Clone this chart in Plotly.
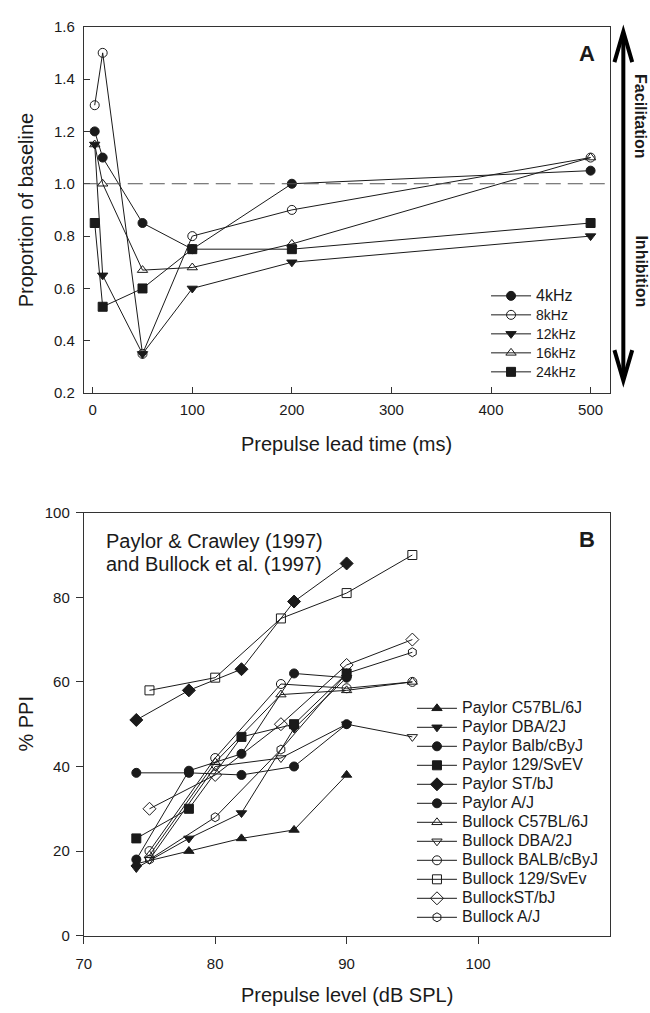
import plotly.graph_objects as go

W, H = 650, 1013

# ---------------- Panel A data ----------------
lead_time = [2, 10, 50, 100, 200, 500]
freq_names = ["4kHz", "8kHz", "12kHz", "16kHz", "24kHz"]
freq_symbols = ["circle", "circle-open", "triangle-down", "triangle-up-open", "square"]
prop_4k = [1.20, 1.10, 0.85, 0.75, 1.00, 1.05]
prop_8k = [1.30, 1.50, 0.35, 0.80, 0.90, 1.10]
prop_12k = [1.15, 0.65, 0.35, 0.60, 0.70, 0.80]
prop_16k = [1.15, 1.00, 0.67, 0.68, 0.77, 1.10]
prop_24k = [0.85, 0.53, 0.60, 0.75, 0.75, 0.85]
prop_series = [prop_4k, prop_8k, prop_12k, prop_16k, prop_24k]

# ---------------- Panel B data ----------------
paylor_levels = [74, 78, 82, 86, 90]
bullock_levels = [75, 80, 85, 90, 95]
strain_names = [
    "Paylor C57BL/6J", "Paylor DBA/2J", "Paylor Balb/cByJ", "Paylor 129/SvEV",
    "Paylor ST/bJ", "Paylor A/J", "Bullock C57BL/6J", "Bullock DBA/2J",
    "Bullock BALB/cByJ", "Bullock 129/SvEv", "BullockST/bJ", "Bullock A/J",
]
strain_symbols = [
    "triangle-up", "triangle-down", "circle", "square", "diamond", "circle",
    "triangle-up-open", "triangle-down-open", "circle-open", "square-open",
    "diamond-open", "hexagon-open",
]
paylor_c57 = [17, 20, 23, 25, 38]
paylor_dba = [16, 23, 29, 49, 61]
paylor_balb = [18, 39, 43, 62, 61]
paylor_129 = [23, 30, 47, 50, 62]
paylor_st = [51, 58, 63, 79, 88]
paylor_aj = [38.5, 38.5, 38, 40, 50]
bullock_c57 = [19, 41, 57, 58, 60]
bullock_dba = [18, 40, 42, 50, 47]
bullock_balb = [20, 42, 59.5, 58.5, 60]
bullock_129 = [58, 61, 75, 81, 90]
bullock_st = [30, 38, 50, 64, 70]
bullock_aj = [18, 28, 44, 62, 67]
ppi_series = [paylor_c57, paylor_dba, paylor_balb, paylor_129, paylor_st, paylor_aj,
              bullock_c57, bullock_dba, bullock_balb, bullock_129, bullock_st, bullock_aj]

FONT = "Liberation Sans, Arial, sans-serif"
INK = "#1a1a1a"


def px(x):
    return x / W


def py(y):
    return 1 - y / H


def label(text, size):
    return f"<span style='font-size:{size}px'>{text}</span>"


fig = go.Figure()

for name, sym, vals in zip(freq_names, freq_symbols, prop_series):
    fig.add_trace(go.Scatter(
        x=lead_time, y=vals, name=label(name, 16 if name == "4kHz" else 14),
        mode="lines+markers",
        line=dict(color=INK, width=1),
        marker=dict(symbol=sym, size=9, color=INK, line=dict(color=INK, width=1)),
        xaxis="x", yaxis="y", legend="legend",
    ))

for i, (name, sym, vals) in enumerate(zip(strain_names, strain_symbols, ppi_series)):
    xs = paylor_levels if i < 6 else bullock_levels
    size = 10 if "diamond" in sym else 9
    fig.add_trace(go.Scatter(
        x=xs, y=vals, name=label(name, 16), mode="lines+markers",
        line=dict(color=INK, width=1),
        marker=dict(symbol=sym, size=size, color=INK, line=dict(color=INK, width=1)),
        xaxis="x2", yaxis="y2", legend="legend2",
    ))

xdom = [px(76.7), px(609)]
axis_common = dict(showline=True, mirror=True, linecolor="#333", linewidth=1,
                   showgrid=False, zeroline=False, tickcolor="#333",
                   tickfont=dict(family=FONT, size=15, color=INK))

fig.update_layout(
    width=W, height=H,
    margin=dict(l=0, r=0, t=0, b=0),
    paper_bgcolor="white", plot_bgcolor="white",
    font=dict(family=FONT, color=INK),
    xaxis=dict(domain=xdom, range=[-9, 519], tickvals=[0, 100, 200, 300, 400, 500],
               ticks="inside", ticklen=6, ticklabelstandoff=3, anchor="y", **axis_common),
    yaxis=dict(domain=[py(390.7), py(18)], range=[0.2, 1.6], dtick=0.2, tickformat=".1f",
               ticks="inside", ticklen=6, ticklabelstandoff=5, anchor="x", **axis_common),
    xaxis2=dict(domain=xdom, range=[70, 110], tickvals=[70, 80, 90, 100],
                ticks="outside", ticklen=7, ticklabelstandoff=7, anchor="y2", **axis_common),
    yaxis2=dict(domain=[py(942.5), py(512.3)], range=[0, 100], dtick=20,
                ticks="outside", ticklen=7, ticklabelstandoff=3, anchor="x2", **axis_common),
    legend=dict(x=px(484), y=py(277), xanchor="left", yanchor="top",
                bgcolor="rgba(0,0,0,0)", font=dict(family=FONT, size=12, color=INK),
                tracegroupgap=0, itemwidth=40),
    legend2=dict(x=px(409), y=py(696.5), xanchor="left", yanchor="top",
                 bgcolor="rgba(0,0,0,0)", font=dict(family=FONT, size=12, color=INK),
                 tracegroupgap=0, itemwidth=40),
    showlegend=True,
)

# dashed baseline in panel A
fig.add_shape(type="line", xref="x", yref="y", x0=-9, x1=519, y0=1.0, y1=1.0,
              line=dict(color="#555", width=1, dash="15px,7px"))

# double-headed arrow on the right of panel A
ax_x = 623
fig.add_shape(type="line", xref="paper", yref="paper", x0=px(ax_x), x1=px(ax_x),
              y0=py(25), y1=py(376), line=dict(color="black", width=4))
fig.add_shape(type="path", xref="paper", yref="paper",
              path=f"M {px(614)} {py(54)} L {px(ax_x)} {py(23)} L {px(632)} {py(54)}",
              line=dict(color="black", width=4))
fig.add_shape(type="path", xref="paper", yref="paper",
              path=f"M {px(614)} {py(347)} L {px(ax_x)} {py(378)} L {px(632)} {py(347)}",
              line=dict(color="black", width=4))

annotations = [
    dict(text="<b>Facilitation</b>", x=px(641), y=py(109), textangle=90, font=dict(size=16)),
    dict(text="<b>Inhibition</b>", x=px(641), y=py(267), textangle=90, font=dict(size=16)),
    dict(text="<b>A</b>", x=px(586), y=py(45), font=dict(size=22)),
    dict(text="<b>B</b>", x=px(586), y=py(540), font=dict(size=22)),
    dict(text="Proportion of baseline", x=px(18), y=py(204), textangle=-90, font=dict(size=20)),
    dict(text="Prepulse lead time (ms)", x=px(343), y=py(442), font=dict(size=20)),
    dict(text="% PPI", x=px(18), y=py(727), textangle=-90, font=dict(size=20)),
    dict(text="Prepulse level (dB SPL)", x=px(343), y=py(1003), font=dict(size=20)),
    dict(text="Paylor & Crawley (1997)", x=px(97), y=py(541), xanchor="left", font=dict(size=20)),
    dict(text="and Bullock et al. (1997)", x=px(97), y=py(564), xanchor="left", font=dict(size=20)),
]
for a in annotations:
    a.setdefault("xanchor", "center")
    a.setdefault("yanchor", "middle")
    a["font"] = dict(family=FONT, color=INK, **a["font"])
    fig.add_annotation(xref="paper", yref="paper", showarrow=False, **a)

fig.write_html("out.html")
